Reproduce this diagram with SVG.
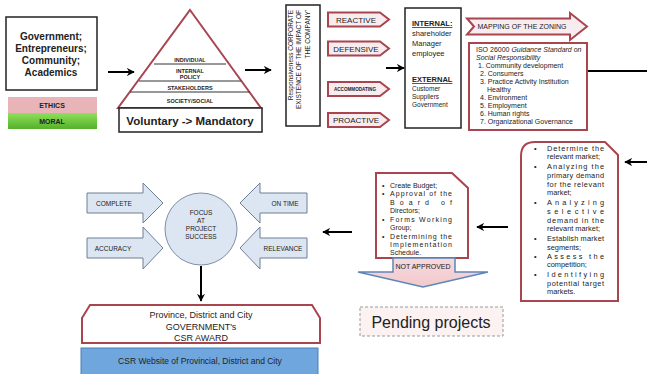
<svg xmlns="http://www.w3.org/2000/svg" width="647" height="374" viewBox="0 0 647 374">
<defs>
<marker id="ah" viewBox="0 0 10 10" refX="9" refY="5" markerWidth="4" markerHeight="4" orient="auto-start-reverse"><path d="M0,0 L10,5 L0,10 L3,5 Z" fill="#000"/></marker>
<linearGradient id="gm" x1="0" y1="0" x2="0" y2="1"><stop offset="0" stop-color="#8ee05a"/><stop offset="1" stop-color="#55b02a"/></linearGradient>
<linearGradient id="gna" x1="0" y1="0" x2="0" y2="1"><stop offset="0" stop-color="#f7d9dc"/><stop offset="1" stop-color="#f2c9cd"/></linearGradient>
</defs>
<style>
text{font-family:"Liberation Sans",Arial,sans-serif;fill:#222}
.b{font-weight:bold}
.box{fill:#fff;stroke:#222;stroke-width:1.5}
.red{fill:#fff;stroke:#a8454f;stroke-width:2}
.chev{fill:#f9ecee;stroke:#a8454f;stroke-width:2}
.blu{fill:#dce6f2;stroke:#6f7f95;stroke-width:1}
.ln{stroke:#000;stroke-width:2;fill:none}
.t7{font-size:7px}
.t75{font-size:7.4px}
.c{text-anchor:middle}
.pl{stroke:#333;stroke-width:1}
</style>

<g id="actors">
<rect class="box" x="6" y="17" width="91" height="73"/>
<text class="b c" x="51" y="40" font-size="10">Government;</text>
<text class="b c" x="51" y="52" font-size="10">Entrepreneurs;</text>
<text class="b c" x="51" y="64" font-size="10">Community;</text>
<text class="b c" x="51" y="76" font-size="10">Academics</text>
</g>

<g id="ethics">
<rect x="8" y="97" width="89" height="16" fill="#e8b4b8"/>
<rect x="8" y="113" width="89" height="16" fill="url(#gm)"/>
<text class="b c" x="52" y="108" font-size="7">ETHICS</text>
<text class="b c" x="52" y="124" font-size="7">MORAL</text>
</g>

<g id="pyramid">
<path d="M190,10 L261,108 L118,108 Z" fill="#fff" stroke="#a8454f" stroke-width="2"/>
<line class="pl" x1="154" y1="64" x2="226" y2="64"/>
<line class="pl" x1="139" y1="81" x2="241" y2="81"/>
<line class="pl" x1="130" y1="92" x2="250" y2="92"/>
<text class="b c" x="190" y="62" font-size="5.5">INDIVIDUAL</text>
<text class="b c" x="190" y="73" font-size="5.5">INTERNAL</text>
<text class="b c" x="190" y="79" font-size="5.5">POLICY</text>
<text class="b c" x="190" y="90" font-size="5.5">STAKEHOLDERS</text>
<text class="b c" x="190" y="103" font-size="5.5">SOCIETY/SOCIAL</text>
<rect class="box" x="119" y="108" width="143" height="24"/>
<text class="b c" x="190" y="125" font-size="11.5">Voluntary -&gt; Mandatory</text>
</g>

<g id="responsiveness">
<rect class="box" x="286" y="5" width="34" height="121"/>
<g transform="translate(303,10) rotate(-90)">
<text x="0" y="-10" font-size="6.5" text-anchor="end">Responsiveness CORPORATE</text>
<text x="0" y="-2" font-size="6.5" text-anchor="end">EXISTENCE OF THE IMPACT OF</text>
<text x="0" y="6.5" font-size="6.5" text-anchor="end">THE COMPANY'</text>
</g>
</g>

<g id="reactive">
<path class="chev" d="M328,12.5 H380 L389,19.5 L380,26.5 H328 Z"/>
<text class="c" x="356" y="22.5" font-size="8">REACTIVE</text>
</g>
<g id="defensive">
<path class="chev" d="M328,41.5 H380 L389,48.5 L380,55.5 H328 Z"/>
<text class="c" x="356" y="51.5" font-size="8">DEFENSIVE</text>
</g>
<g id="accommodating">
<path class="chev" d="M328,82 H380 L389,89 L380,96 H328 Z"/>
<text class="c b" x="355" y="91" font-size="4.6">ACCOMMODATING</text>
</g>
<g id="proactive">
<path class="chev" d="M328,113 H380 L389,120 L380,127 H328 Z"/>
<text class="c" x="356" y="123" font-size="8">PROACTIVE</text>
</g>

<g id="stakeholders">
<rect class="box" x="405" y="8" width="56" height="120"/>
<text class="b" x="412" y="26" font-size="7.5" text-decoration="underline">INTERNAL:</text>
<text x="412" y="36" font-size="7.5">shareholder</text>
<text x="412" y="46" font-size="7.5">Manager</text>
<text x="412" y="56" font-size="7.5">employee</text>
<text class="b" x="412" y="82" font-size="7.5" text-decoration="underline">EXTERNAL</text>
<text x="412" y="91" font-size="6.5">Customer</text>
<text x="412" y="99" font-size="6.5">Suppliers</text>
<text x="412" y="107" font-size="6.5">Government</text>
</g>

<g id="mapping">
<path class="chev" d="M467,18.5 H570 V13 L587,26.5 L570,40 V34.5 H467 L474,26.5 Z"/>
<text class="c" x="522" y="29" font-size="7">MAPPING OF THE ZONING</text>
</g>

<g id="iso">
<rect class="red" x="469" y="43" width="118" height="87"/>
<text class="t7" x="476" y="52">ISO 26000 <tspan font-style="italic">Guidance Standard on</tspan></text>
<text class="t7" x="476" y="60" font-style="italic">Social Responsibility</text>
<text class="t7" x="478" y="68">1. Community development</text>
<text class="t7" x="480" y="76">2. Consumers</text>
<text class="t7" x="480" y="84">3. Practice Activity Institution</text>
<text class="t7" x="487" y="92">Healthy</text>
<text class="t7" x="480" y="100">4. Environment</text>
<text class="t7" x="480" y="108">5. Employment</text>
<text class="t7" x="480" y="116">6. Human rights</text>
<text class="t7" x="480" y="124">7. Organizational Governance</text>
</g>

<g id="market">
<path class="red" d="M521,301 V156 Q521,142 535,142 H605 L618,155 V301 Z"/>
<g class="t75">
<text x="534" y="151">•</text>
<text x="547" y="151" textLength="57" lengthAdjust="spacing">Determine the</text>
<text x="547" y="159">relevant market;</text>
<text x="534" y="169">•</text>
<text x="547" y="169" textLength="57" lengthAdjust="spacing">Analyzing the</text>
<text x="547" y="178" textLength="57" lengthAdjust="spacing">primary demand</text>
<text x="547" y="187" textLength="57" lengthAdjust="spacing">for the relevant</text>
<text x="547" y="195">market;</text>
<text x="534" y="205">•</text>
<text x="547" y="205" textLength="57" lengthAdjust="spacing">Analyzing</text>
<text x="547" y="214" textLength="57" lengthAdjust="spacing">selective</text>
<text x="547" y="223" textLength="57" lengthAdjust="spacing">demand in the</text>
<text x="547" y="231">relevant market;</text>
<text x="534" y="241">•</text>
<text x="547" y="241" textLength="57" lengthAdjust="spacing">Establish market</text>
<text x="547" y="250">segments;</text>
<text x="534" y="259">•</text>
<text x="547" y="259" textLength="57" lengthAdjust="spacing">Assess the</text>
<text x="547" y="267">competition;</text>
<text x="534" y="277">•</text>
<text x="547" y="277" textLength="57" lengthAdjust="spacing">Identifying</text>
<text x="547" y="286" textLength="57" lengthAdjust="spacing">potential target</text>
<text x="547" y="294">markets.</text>
</g>
</g>

<g id="budget">
<path class="red" d="M376,258 V173 H452 L468,188 V258 Z"/>
<g class="t7">
<text x="382" y="188">•</text>
<text x="390" y="188">Create Budget;</text>
<text x="382" y="196">•</text>
<text x="390" y="196" textLength="62" lengthAdjust="spacing">Approval of the</text>
<text x="390" y="205" textLength="62" lengthAdjust="spacing">Board of</text>
<text x="390" y="213">Directors;</text>
<text x="382" y="222">•</text>
<text x="390" y="222" textLength="62" lengthAdjust="spacing">Forms Working</text>
<text x="390" y="230">Group;</text>
<text x="382" y="239">•</text>
<text x="390" y="239" textLength="62" lengthAdjust="spacing">Determining the</text>
<text x="390" y="247" textLength="62" lengthAdjust="spacing">Implementation</text>
<text x="390" y="255">Schedule.</text>
</g>
</g>

<g id="not-approved">
<path d="M393,258 H455 V272 H488 L423,287 L358,272 H393 Z" fill="url(#gna)" stroke="#5d86b8" stroke-width="1.5"/>
<text class="c" x="423" y="269" font-size="7">NOT APPROVED</text>
</g>

<g id="pending">
<rect x="360" y="307" width="143" height="29" fill="#fdf2f2" stroke="#999" stroke-width="1" stroke-dasharray="3,2"/>
<text class="c" x="431" y="328" font-size="16">Pending projects</text>
</g>

<g id="focus">
<path class="blu" d="M87,193 H143 V183 L163,203 L143,223 V213 H87 Z"/>
<text class="c" x="114" y="206" font-size="6.5">COMPLETE</text>
<path class="blu" d="M87,238 H143 V227 L163,248 L143,269 V258 H87 Z"/>
<text class="c" x="113" y="251" font-size="6.5">ACCURACY</text>
<path class="blu" d="M307,193 H260 V183 L240,203 L260,223 V213 H307 Z"/>
<text class="c" x="285" y="206" font-size="6.5">ON TIME</text>
<path class="blu" d="M307,238 H260 V227 L240,248 L260,269 V258 H307 Z"/>
<text class="c" x="283" y="251" font-size="6.5">RELEVANCE</text>
<circle cx="201" cy="229" r="36" fill="#dce6f2" stroke="#7f8fa5" stroke-width="1"/>
<text class="c" x="201" y="215" font-size="6.5">FOCUS</text>
<text class="c" x="201" y="223" font-size="6.5">AT</text>
<text class="c" x="201" y="231" font-size="6.5">PROJECT</text>
<text class="c" x="201" y="239" font-size="6.5">SUCCESS</text>
</g>

<g id="award">
<path class="red" d="M82,343 V318 L90,305 H312 L320,318 V343 Z"/>
<text class="c" x="201" y="318" font-size="9">Province, District and City</text>
<text class="c" x="201" y="330" font-size="9">GOVERNMENT's</text>
<text class="c" x="201" y="341" font-size="9">CSR AWARD</text>
</g>

<g id="website">
<rect x="81" y="348" width="237" height="30" fill="#6fa6de" stroke="#4a7fb8" stroke-width="1"/>
<text class="c" x="200" y="364" font-size="8.5">CSR Website of Provincial, District and City</text>
</g>

<g id="connectors">
<line class="ln" x1="108" y1="72" x2="134" y2="72" marker-end="url(#ah)"/>
<line class="ln" x1="245" y1="70" x2="271" y2="70" marker-end="url(#ah)"/>
<line class="ln" x1="386" y1="68" x2="404" y2="68" marker-end="url(#ah)"/>
<line class="ln" x1="588" y1="71" x2="647" y2="71"/>
<line class="ln" x1="647" y1="162" x2="625" y2="162" marker-end="url(#ah)"/>
<line class="ln" x1="508" y1="227" x2="477" y2="227" marker-end="url(#ah)"/>
<line class="ln" x1="352" y1="232" x2="323" y2="232" marker-end="url(#ah)"/>
<line class="ln" x1="201" y1="266" x2="201" y2="301" marker-end="url(#ah)"/>
</g>
</svg>
